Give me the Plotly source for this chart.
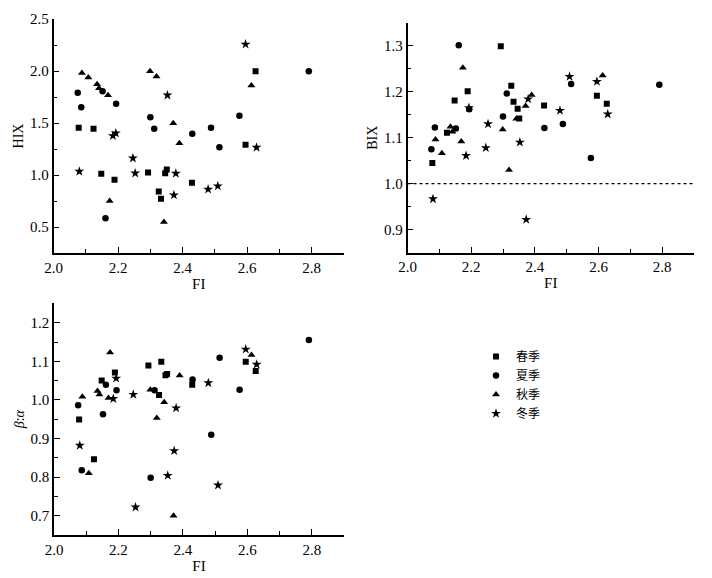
import plotly.graph_objects as go

# ---------------- data ----------------
seasons = ["春季", "夏季", "秋季", "冬季"]
symbols = ["square", "circle", "triangle-up", "star"]
sizes = [6, 6.5, 7, 7.5]

fi_spring = [2.078, 2.124, 2.148, 2.189, 2.293, 2.326, 2.333, 2.346, 2.351, 2.429, 2.595, 2.626]
hix_spring = [1.454, 1.444, 1.012, 0.954, 1.025, 0.842, 0.772, 1.018, 1.054, 0.926, 1.290, 1.998]
bix_spring = [1.045, 1.111, 1.181, 1.201, 1.299, 1.213, 1.178, 1.163, 1.142, 1.170, 1.191, 1.174]
ba_spring = [0.949, 0.846, 1.050, 1.071, 1.089, 1.013, 1.099, 1.064, 1.067, 1.039, 1.099, 1.075]

fi_summer = [2.075, 2.086, 2.152, 2.161, 2.194, 2.300, 2.312, 2.430, 2.488, 2.514, 2.576, 2.791]
hix_summer = [1.790, 1.652, 1.806, 0.583, 1.684, 1.556, 1.444, 1.396, 1.454, 1.268, 1.569, 1.998]
bix_summer = [1.075, 1.122, 1.120, 1.301, 1.162, 1.146, 1.196, 1.121, 1.130, 1.217, 1.056, 1.215]
ba_summer = [0.986, 0.818, 0.963, 1.039, 1.025, 0.798, 1.025, 1.053, 0.910, 1.109, 1.026, 1.155]

fi_autumn = [2.088, 2.108, 2.135, 2.141, 2.169, 2.174, 2.299, 2.319, 2.342, 2.371, 2.390, 2.613]
hix_autumn = [1.980, 1.937, 1.873, 1.834, 1.767, 0.750, 1.998, 1.946, 0.548, 1.498, 1.306, 1.860]
bix_autumn = [1.096, 1.066, 1.124, 1.113, 1.092, 1.252, 1.118, 1.030, 1.141, 1.169, 1.193, 1.235]
ba_autumn = [1.008, 0.810, 1.023, 1.014, 1.005, 1.123, 1.026, 0.953, 0.994, 0.700, 1.063, 1.116]

fi_winter = [2.080, 2.184, 2.193, 2.246, 2.253, 2.353, 2.373, 2.379, 2.479, 2.509, 2.595, 2.629]
hix_winter = [1.034, 1.377, 1.402, 1.162, 1.018, 1.767, 0.807, 1.015, 0.862, 0.894, 2.257, 1.265]
bix_winter = [0.967, 1.061, 1.165, 1.078, 1.130, 1.090, 0.922, 1.184, 1.159, 1.233, 1.222, 1.151]
ba_winter = [0.882, 1.003, 1.056, 1.014, 0.722, 0.804, 0.868, 0.979, 1.044, 0.779, 1.131, 1.092]

fi_all = [fi_spring, fi_summer, fi_autumn, fi_winter]
hix_all = [hix_spring, hix_summer, hix_autumn, hix_winter]
bix_all = [bix_spring, bix_summer, bix_autumn, bix_winter]
ba_all = [ba_spring, ba_summer, ba_autumn, ba_winter]

bix_ref = 1.0
fi_range = [2.0, 2.9]

# ---------------- figure ----------------
# page body has an 8px margin; the figure fills the rest of the 712x578 window
OFF = 8
W, H = 712 - OFF, 578 - OFF
FONT = "Liberation Serif, Times New Roman, Noto Sans CJK SC, serif"

fig = go.Figure()
panels = [("x", "y", hix_all), ("x2", "y2", bix_all), ("x3", "y3", ba_all)]
for i, s in enumerate(seasons):
    for j, (xa, ya, vals) in enumerate(panels):
        fig.add_trace(go.Scatter(
            x=fi_all[i], y=vals[i], mode="markers", name=s,
            legendgroup=s, showlegend=(j == 0),
            xaxis=xa, yaxis=ya,
            marker=dict(symbol=symbols[i], size=sizes[i], color="black",
                        line=dict(width=0)),
        ))

def px_x(a, b):
    return [(a - OFF) / W, (b - OFF) / W]

def px_y(top, bottom):
    return [(H - (bottom - OFF)) / H, (H - (top - OFF)) / H]

axis_common = dict(
    showline=True, linecolor="black", linewidth=1.5,
    ticks="inside", ticklen=6, tickwidth=1.4, tickcolor="black",
    showgrid=False, zeroline=False,
    tickfont=dict(family=FONT, size=15, color="black"),
    automargin=False,
)

def xaxis(domain, anchor):
    return dict(axis_common, domain=domain, anchor=anchor, range=fi_range,
                dtick=0.2, tick0=2.0, tickformat=".1f",
                minor=dict(dtick=0.1, tick0=2.0, ticks="inside", ticklen=4,
                           tickwidth=1.2, tickcolor="black"),
                title=dict(text="FI", font=dict(family=FONT, size=15, color="black"),
                           standoff=0))

def yaxis(domain, anchor, rng, dtick, minor, title):
    return dict(axis_common, domain=domain, anchor=anchor, range=rng,
                dtick=dtick, tickformat=".1f",
                minor=dict(dtick=minor, ticks="inside", ticklen=4,
                           tickwidth=1.2, tickcolor="black"),
                title=dict(text=title, font=dict(family=FONT, size=14, color="black"),
                           standoff=3))

fig.update_layout(
    width=W, height=H,
    margin=dict(l=0, r=0, t=0, b=0),
    paper_bgcolor="white", plot_bgcolor="white",
    font=dict(family=FONT, size=13, color="black"),
    xaxis=xaxis(px_x(53.5, 344), "y"),
    yaxis=yaxis(px_y(19, 253), "x", [0.25, 2.5], 0.5, 0.25, "HIX"),
    xaxis2=xaxis(px_x(407.5, 694), "y2"),
    yaxis2=dict(yaxis(px_y(22.7, 252.7), "x2", [0.85, 1.35], 0.1, 0.05, "BIX"), tick0=0.9),
    xaxis3=xaxis(px_x(54, 344), "y3"),
    yaxis3=dict(yaxis(px_y(303.4, 535), "x3", [0.65, 1.25], 0.1, 0.05, "<i>β</i>:<i>α</i>"), tick0=0.7),
    legend=dict(x=(476 - OFF) / W, y=(H - (342 - OFF)) / H, xanchor="left", yanchor="top",
                font=dict(family=FONT, size=12, color="black"),
                bgcolor="rgba(0,0,0,0)", borderwidth=0,
                tracegroupgap=0, itemwidth=30),
    shapes=[dict(type="line", xref="x2", yref="y2",
                 x0=fi_range[0], x1=fi_range[1], y0=bix_ref, y1=bix_ref,
                 line=dict(color="black", width=1.3, dash="dot"))],
)

fig.write_html("out.html")
